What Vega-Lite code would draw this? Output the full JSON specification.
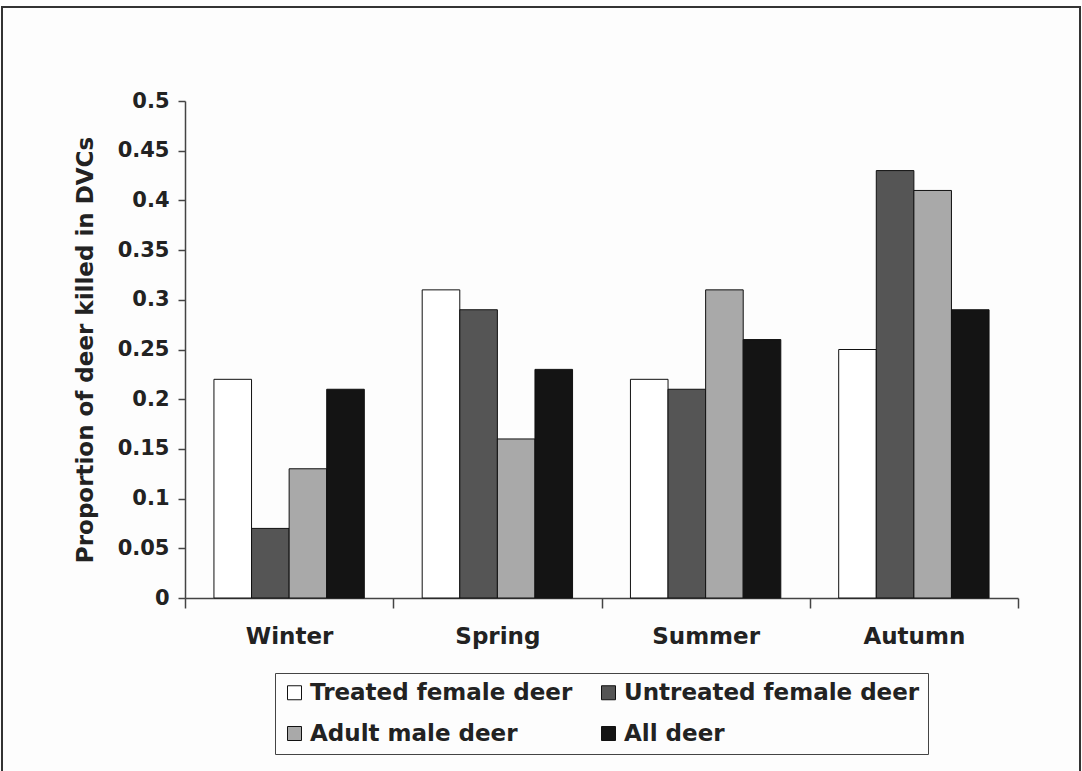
{
  "$schema": "https://vega.github.io/schema/vega-lite/v6.json",
  "width": 1078,
  "height": 770,
  "autosize": {"type": "none"},
  "padding": {"left": 2, "top": 7, "right": 2, "bottom": 0},
  "background": "#fdfdfd",
  "data": {
    "values": [
      {"season": "Winter", "group": "Treated female deer", "proportion": 0.22},
      {"season": "Winter", "group": "Untreated female deer", "proportion": 0.07},
      {"season": "Winter", "group": "Adult male deer", "proportion": 0.13},
      {"season": "Winter", "group": "All deer", "proportion": 0.21},
      {"season": "Spring", "group": "Treated female deer", "proportion": 0.31},
      {"season": "Spring", "group": "Untreated female deer", "proportion": 0.29},
      {"season": "Spring", "group": "Adult male deer", "proportion": 0.16},
      {"season": "Spring", "group": "All deer", "proportion": 0.23},
      {"season": "Summer", "group": "Treated female deer", "proportion": 0.22},
      {"season": "Summer", "group": "Untreated female deer", "proportion": 0.21},
      {"season": "Summer", "group": "Adult male deer", "proportion": 0.31},
      {"season": "Summer", "group": "All deer", "proportion": 0.26},
      {"season": "Autumn", "group": "Treated female deer", "proportion": 0.25},
      {"season": "Autumn", "group": "Untreated female deer", "proportion": 0.43},
      {"season": "Autumn", "group": "Adult male deer", "proportion": 0.41},
      {"season": "Autumn", "group": "All deer", "proportion": 0.29}
    ]
  },
  "mark": {"type": "bar", "stroke": "#111111", "strokeWidth": 1},
  "encoding": {
    "x": {
      "field": "season",
      "type": "nominal",
      "sort": ["Winter", "Spring", "Summer", "Autumn"],
      "scale": {"range": [183, 1016], "paddingInner": 0, "paddingOuter": 0},
      "axis": {
        "title": null,
        "offset": -179,
        "labelAngle": 0,
        "tickBand": "extent",
        "tickSize": 10,
        "labelPadding": 17,
        "labelFont": "DejaVu Sans",
        "labelFontSize": 23,
        "labelFontWeight": "bold",
        "labelColor": "#222222",
        "domainColor": "#444444",
        "domainWidth": 1.5,
        "tickColor": "#444444",
        "tickWidth": 1.5,
        "grid": false
      }
    },
    "xOffset": {
      "field": "group",
      "type": "nominal",
      "sort": ["Treated female deer", "Untreated female deer", "Adult male deer", "All deer"],
      "scale": {"paddingInner": 0, "paddingOuter": 0.77}
    },
    "y": {
      "field": "proportion",
      "type": "quantitative",
      "scale": {"domain": [0, 0.5], "range": [591, 94], "nice": false, "zero": true},
      "axis": {
        "title": "Proportion of deer killed in DVCs",
        "offset": -183,
        "values": [0, 0.05, 0.1, 0.15, 0.2, 0.25, 0.3, 0.35, 0.4, 0.45, 0.5],
        "format": "~g",
        "grid": false,
        "tickSize": 7,
        "labelPadding": 9,
        "labelFont": "DejaVu Sans",
        "labelFontSize": 21,
        "labelFontWeight": "bold",
        "labelColor": "#222222",
        "titleFont": "DejaVu Sans",
        "titleFontSize": 23,
        "titleFontWeight": "bold",
        "titleColor": "#222222",
        "titlePadding": 20,
        "domainColor": "#444444",
        "domainWidth": 1.5,
        "tickColor": "#444444",
        "tickWidth": 1.5
      }
    },
    "color": {
      "field": "group",
      "type": "nominal",
      "scale": {
        "domain": ["Treated female deer", "Adult male deer", "Untreated female deer", "All deer"],
        "range": ["#ffffff", "#a9a9a9", "#555555", "#141414"]
      },
      "legend": {
        "title": null,
        "orient": "none",
        "legendX": 273,
        "legendY": 666,
        "columns": 2,
        "padding": 8,
        "strokeColor": "#444444",
        "labelFont": "DejaVu Sans",
        "labelFontSize": 23,
        "labelFontWeight": "bold",
        "labelColor": "#222222",
        "labelLimit": 400,
        "labelOffset": 4,
        "symbolType": "square",
        "symbolSize": 196,
        "symbolStrokeColor": "#111111",
        "symbolStrokeWidth": 1,
        "symbolOpacity": 1,
        "columnPadding": 24,
        "rowPadding": 17
      }
    }
  },
  "config": {
    "view": {"stroke": "#333333", "strokeWidth": 2}
  }
}
